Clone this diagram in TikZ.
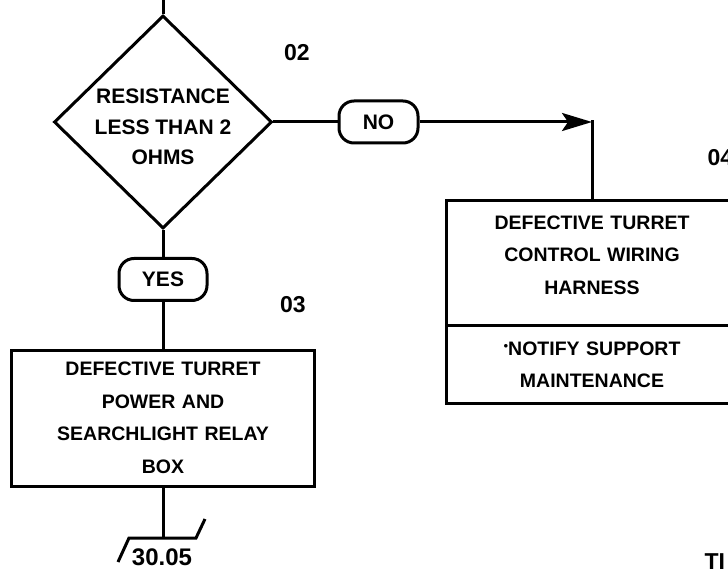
\documentclass[tikz,border=0pt]{standalone}
\usepackage{fontspec}
\setmainfont{Liberation Sans}
\usepackage{tikz}
\usetikzlibrary{arrows.meta,positioning,shapes.geometric}
\tikzset{
  >={Stealth[length=30pt,width=18pt,inset=6pt]},
  wire/.style={line width=3pt,draw=black},
  flow/.style={wire,->},
  box/.style={rectangle,wire,outer sep=0pt,align=center,text width=262pt,
    inner xsep=15pt,font=\fontsize{19.5}{32.5}\selectfont\bfseries},
  decision/.style={diamond,wire,inner sep=0pt,
    minimum width=218pt,minimum height=213pt},
  dectext/.style={align=center,yshift=-5pt,
    font=\fontsize{21}{30.5}\selectfont\bfseries},
  pill/.style={rectangle,rounded corners=15pt,wire,minimum height=42pt,
    font=\fontsize{21}{22}\selectfont\bfseries},
  stepno/.style={font=\fontsize{23}{24}\selectfont\bfseries}
}
\begin{document}
\begin{tikzpicture}[x=1pt,y=-1pt]
  \useasboundingbox (0,0) rectangle (728,569);
  % step 02
  \node[decision,label={[dectext]center:RESISTANCE\\LESS THAN 2\\OHMS}] (dec) at (163,122) {};
  \coordinate (in) at (163,-5);
  \draw[wire] (in) -- (dec);
  \node[stepno] (n02) at (297,53) {02};
  % NO branch, step 04
  \node[pill,minimum width=79pt,right=64pt of dec] (no) {NO};
  \node[box,text height=14pt,text depth=81pt,inner ysep=14.5pt] (harness) at (592,263)
    {DEFECTIVE TURRET\\CONTROL WIRING\\HARNESS};
  \node[box,text height=15.5pt,text depth=33.5pt,inner ysep=14.5pt,below=0pt of harness] (notify)
    {\raisebox{.35em}{\fontsize{9}{9}\selectfont$\bullet$}NOTIFY SUPPORT\\MAINTENANCE};
  \node[stepno,anchor=west] (n04) at (704,158) {04};
  \coordinate (elbow) at (harness.north |- no.east);
  \draw[wire] (dec) -- (no);
  \draw[flow] (no) -- (elbow);
  \draw[wire,line cap=rect] (elbow) -- (harness);
  % YES branch, step 03
  \node[pill,minimum width=88pt,below=27pt of dec] (yes) {YES};
  \node[box,text width=273pt,minimum height=136pt,below=48pt of yes] (relay)
    {DEFECTIVE TURRET\\POWER AND\\SEARCHLIGHT RELAY\\BOX};
  \node[stepno] (n03) at (293,305) {03};
  \draw[wire] (dec) -- (yes);
  \draw[wire] (yes) -- (relay);
  % off-page connector
  \coordinate (off) at (163,538);
  \draw[wire] (relay) -- (off);
  \draw[wire] (118,562) -- (129,538) -- (196,538) -- (205,519);
  \node[stepno,font=\fontsize{24}{26}\selectfont\bfseries] (page) at (162,557) {30.05};
  \node[stepno,anchor=base west] (fig) at (701,569) {TI};
\end{tikzpicture}
\end{document}
